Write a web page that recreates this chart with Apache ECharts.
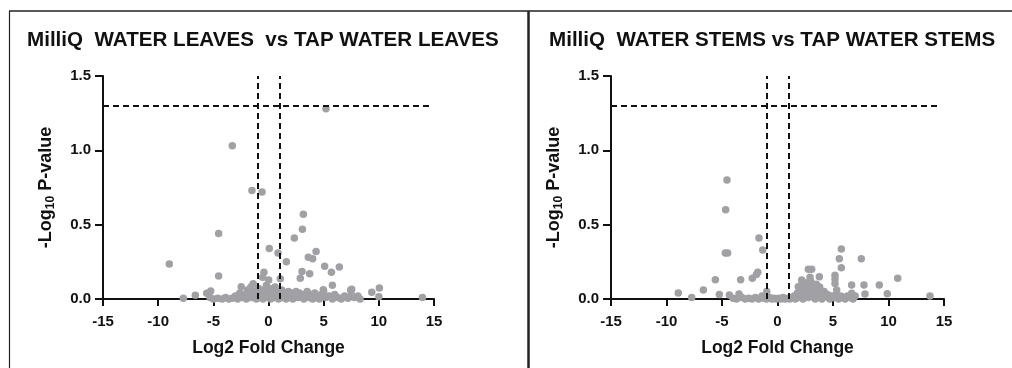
<!DOCTYPE html>
<html>
<head>
<meta charset="utf-8">
<script src="https://cdn.jsdelivr.net/npm/echarts@6/dist/echarts.min.js"></script>
<style>
  html, body { margin: 0; padding: 0; background: #fff; }
  #chart { width: 1012px; height: 368px; }
</style>
</head>
<body>
<div id="chart"></div>
<script>
// titles and axis text
var panelTitles = ['MilliQ  WATER LEAVES  vs TAP WATER LEAVES', 'MilliQ  WATER STEMS vs TAP WATER STEMS'];
var xTickValues = [-15, -10, -5, 0, 5, 10, 15];
var yTickValues = [0, 0.5, 1.0, 1.5];
var pThreshold = 1.3;      // -log10(0.05)
var foldThreshold = [-1, 1];

// leaves: [log2 fold change, -log10 p]
var leavesPoints = [
    [5.21, 1.28], [-3.28, 1.03], [-1.50, 0.73], [-0.59, 0.72], [3.16, 0.57], [3.07, 0.47],
    [2.34, 0.41], [-4.52, 0.44], [0.07, 0.34], [0.86, 0.31], [4.31, 0.32], [3.61, 0.28],
    [4.00, 0.27], [1.62, 0.25], [-8.99, 0.235], [5.09, 0.22], [6.42, 0.215], [5.70, 0.18],
    [3.04, 0.185], [3.73, 0.17], [2.88, 0.14], [-0.41, 0.18], [-0.53, 0.146], [0.02, 0.128],
    [1.07, 0.137], [-4.52, 0.155], [5.79, 0.092], [10.05, 0.074], [9.36, 0.045], [7.45, 0.06],
    [13.95, 0.01], [-7.72, 0.005], [-6.63, 0.025], [-5.6, 0.038], [-5.24, 0.054], [-2.47, 0.083],
    [-1.39, 0.103], [10.0, 0.015], [4.97, 0.063], [7.54, 0.065]
];
var leavesLow = [
    [-5.3, 0.01], [-5.0, 0.0], [-4.6, 0.005], [-4.2, 0.0], [-3.9, 0.01], [-3.6, 0.0], [-3.3, 0.005],
    [-3.0, 0.02], [-2.8, 0.0], [-2.6, 0.04], [-2.4, 0.01], [-2.2, 0.03], [-2.0, 0.0], [-1.9, 0.06],
    [-1.8, 0.02], [-1.6, 0.08], [-1.5, 0.01], [-1.3, 0.05], [-1.2, 0.03], [-1.1, 0.0], [-0.9, 0.07],
    [-0.8, 0.02], [-0.7, 0.04], [-0.5, 0.0], [-0.4, 0.06], [-0.3, 0.02], [-0.2, 0.09], [-0.1, 0.01],
    [0.0, 0.04], [0.1, 0.07], [0.2, 0.0], [0.3, 0.03], [0.4, 0.06], [0.5, 0.01], [0.6, 0.08],
    [0.7, 0.02], [0.8, 0.05], [0.9, 0.0], [1.1, 0.03], [1.2, 0.06], [1.3, 0.01], [1.5, 0.04],
    [1.6, 0.0], [1.8, 0.05], [1.9, 0.02], [2.1, 0.04], [2.2, 0.0], [2.4, 0.03], [2.5, 0.05],
    [2.7, 0.01], [2.8, 0.04], [3.0, 0.02], [3.2, 0.0], [3.3, 0.03], [3.5, 0.05], [3.7, 0.01],
    [3.8, 0.03], [4.0, 0.0], [4.2, 0.04], [4.4, 0.02], [4.6, 0.0], [4.8, 0.03], [5.0, 0.05],
    [5.2, 0.01], [5.5, 0.02], [5.8, 0.0], [6.0, 0.03], [6.3, 0.01], [6.6, 0.0], [6.9, 0.02],
    [7.2, 0.005], [7.5, 0.03], [7.8, 0.01], [8.1, 0.02], [8.3, 0.0]
];

// stems
var stemsPoints = [
    [-4.55, 0.80], [-4.67, 0.60], [-4.70, 0.31], [-4.49, 0.31], [-1.67, 0.41], [-1.33, 0.33],
    [-1.78, 0.18], [-1.90, 0.165], [-2.27, 0.14], [-3.32, 0.13], [-5.6, 0.13], [-6.68, 0.06],
    [-8.94, 0.04], [-7.73, 0.01], [-5.24, 0.03], [-4.34, 0.027], [-3.47, 0.034], [-0.97, 0.05],
    [5.75, 0.336], [5.57, 0.27], [7.55, 0.27], [5.75, 0.21], [10.83, 0.14], [2.78, 0.2],
    [3.08, 0.2], [3.77, 0.15], [2.93, 0.146], [5.18, 0.16], [5.18, 0.134], [5.18, 0.105],
    [6.68, 0.094], [7.79, 0.094], [9.17, 0.094], [7.88, 0.034], [9.89, 0.036], [13.74, 0.02],
    [5.33, 0.06], [6.68, 0.038], [2.18, 0.128], [1.87, 0.083]
];
var stemsLow = [
    [-4.0, 0.005], [-3.7, 0.0], [-3.2, 0.01], [-2.9, 0.0], [-2.6, 0.005], [-2.3, 0.0], [-2.0, 0.01],
    [-1.7, 0.0], [-1.4, 0.02], [-1.2, 0.005], [-1.0, 0.0], [-0.7, 0.01], [-0.5, 0.0], [-0.3, 0.005],
    [-0.1, 0.0], [0.1, 0.005], [0.3, 0.0], [0.5, 0.01], [0.7, 0.0], [0.9, 0.005], [1.1, 0.0],
    [1.3, 0.01], [1.5, 0.02], [1.6, 0.0], [1.8, 0.04], [1.9, 0.01], [2.0, 0.07], [2.1, 0.02],
    [2.2, 0.1], [2.3, 0.0], [2.4, 0.05], [2.5, 0.11], [2.6, 0.03], [2.7, 0.08], [2.8, 0.01],
    [2.9, 0.06], [3.0, 0.12], [3.1, 0.02], [3.2, 0.09], [3.3, 0.04], [3.4, 0.0], [3.5, 0.1],
    [3.6, 0.06], [3.7, 0.02], [3.8, 0.08], [3.9, 0.04], [4.0, 0.0], [4.2, 0.05], [4.3, 0.02],
    [4.5, 0.03], [4.7, 0.0], [4.9, 0.02], [5.1, 0.01], [5.3, 0.03], [5.5, 0.0], [5.7, 0.02],
    [5.9, 0.01], [6.1, 0.0], [6.3, 0.02], [6.5, 0.01], [6.8, 0.0], [7.0, 0.02]
];

var font = '"Liberation Sans", Arial, sans-serif';
var ink = '#111';

function xAxisFor(idx) {
    return {
        gridIndex: idx,
        type: 'value',
        min: xTickValues[0],
        max: xTickValues[xTickValues.length - 1],
        interval: 5,
        name: 'Log2 Fold Change',
        nameLocation: 'middle',
        nameGap: 40,
        nameTextStyle: { fontFamily: font, fontSize: 17.5, fontWeight: 'bold', color: ink },
        axisLine: { onZero: false, lineStyle: { color: ink, width: 2 } },
        axisTick: { length: 7, lineStyle: { color: ink, width: 2 } },
        axisLabel: { margin: 15, fontFamily: font, fontSize: 15, fontWeight: 'bold', color: ink },
        splitLine: { show: false }
    };
}

function yAxisFor(idx) {
    return {
        gridIndex: idx,
        type: 'value',
        min: yTickValues[0],
        max: yTickValues[yTickValues.length - 1],
        interval: 0.5,
        name: '{a|-Log}{b|10}{a| P-value}',
        nameLocation: 'middle',
        nameRotate: 90,
        nameGap: 46,
        nameTextStyle: {
            fontFamily: font, fontWeight: 'bold', color: ink,
            rich: {
                a: { fontFamily: font, fontSize: 18, fontWeight: 'bold', color: ink, lineHeight: 21 },
                b: { fontFamily: font, fontSize: 12, fontWeight: 'bold', color: ink, lineHeight: 12, verticalAlign: 'bottom' }
            }
        },
        axisLine: { show: true, onZero: false, lineStyle: { color: ink, width: 2 } },
        axisTick: { show: true, length: 8, lineStyle: { color: ink, width: 2 } },
        axisLabel: {
            margin: 12, fontFamily: font, fontSize: 15, fontWeight: 'bold', color: ink,
            formatter: function (v) { return v.toFixed(1); }
        },
        splitLine: { show: false }
    };
}

// dashed cut-off lines
function cutLines(xEnd) {
    return {
        silent: true,
        symbol: 'none',
        label: { show: false },
        lineStyle: { color: ink, width: 2, type: [6, 4], opacity: 1 },
        data: [
            [{ coord: [-15, pThreshold] }, { coord: [xEnd, pThreshold] }],
            [{ coord: [foldThreshold[0], 0] }, { coord: [foldThreshold[0], 1.5] }],
            [{ coord: [foldThreshold[1], 0] }, { coord: [foldThreshold[1], 1.5] }]
        ]
    };
}

function dots(idx, pts, low, xEnd) {
    return {
        type: 'scatter',
        xAxisIndex: idx,
        yAxisIndex: idx,
        symbolSize: 7.5,
        itemStyle: { color: '#a1a1a5', opacity: 1 },
        data: low.concat(pts),
        markLine: cutLines(xEnd),
        z: 3
    };
}

var chart = echarts.init(document.getElementById('chart'), null, { renderer: 'canvas' });
var titleStyle = { fontFamily: font, fontSize: 20.6, fontWeight: 'bold', color: ink };
var option = {
    backgroundColor: '#fff',
    animation: false,
    title: [
        { text: panelTitles[0], left: 27, top: 30, padding: 0, textStyle: titleStyle },
        { text: panelTitles[1], left: 549, top: 30, padding: 0, textStyle: titleStyle }
    ],
    grid: [
        { left: 103, width: 331, top: 76, bottom: 69 },
        { left: 611, width: 333, top: 76, bottom: 69 }
    ],
    xAxis: [xAxisFor(0), xAxisFor(1)],
    yAxis: [yAxisFor(0), yAxisFor(1)],
    series: [
        dots(0, leavesPoints, leavesLow, 14.6),
        dots(1, stemsPoints, stemsLow, 14.5)
    ],
    graphic: [
        // panel frames
        { type: 'line', shape: { x1: 9.5, y1: 11, x2: 9.5, y2: 368 }, style: { stroke: '#222', lineWidth: 1.2 } },
        { type: 'line', shape: { x1: 9, y1: 11, x2: 1012, y2: 11 }, style: { stroke: '#222', lineWidth: 1.5 } },
        { type: 'line', shape: { x1: 528.5, y1: 11, x2: 528.5, y2: 368 }, style: { stroke: '#222', lineWidth: 2.5 } }
    ]
};
chart.setOption(option);
</script>
</body>
</html>
